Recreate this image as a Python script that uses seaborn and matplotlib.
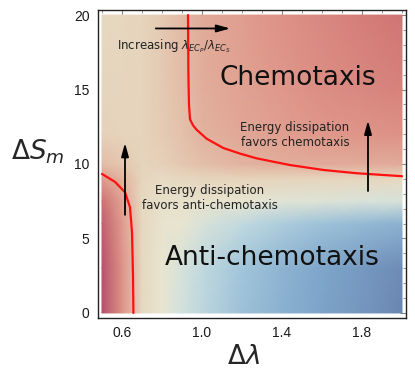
import numpy as np
import matplotlib
matplotlib.use("Agg")
import matplotlib.pyplot as plt
import seaborn as sns
import pandas as pd
from matplotlib.colors import LinearSegmentedColormap
from matplotlib.ticker import MultipleLocator

# ---- data ----
x_grid = [0.5, 0.6, 0.7, 0.8, 0.9, 1.0, 1.2, 1.4, 1.6, 1.8, 2.0]
y_grid = [0, 3, 6, 7.5, 9, 10, 12, 15, 20]
field = [
    [1.00, 0.60, 0.15, 0.00, -0.12, -0.25, -0.45, -0.60, -0.72, -0.82, -0.95],
    [0.98, 0.60, 0.15, 0.00, -0.10, -0.22, -0.42, -0.57, -0.70, -0.80, -0.90],
    [0.90, 0.55, 0.15, 0.03, 0.00, -0.08, -0.22, -0.34, -0.44, -0.52, -0.60],
    [0.80, 0.50, 0.15, 0.06, 0.05, 0.04, 0.00, -0.04, -0.06, -0.08, -0.10],
    [0.55, 0.40, 0.18, 0.12, 0.15, 0.18, 0.20, 0.20, 0.18, 0.17, 0.15],
    [0.35, 0.28, 0.20, 0.22, 0.28, 0.33, 0.40, 0.43, 0.45, 0.45, 0.45],
    [0.22, 0.20, 0.20, 0.25, 0.32, 0.40, 0.47, 0.52, 0.56, 0.58, 0.60],
    [0.18, 0.18, 0.20, 0.26, 0.34, 0.43, 0.50, 0.56, 0.62, 0.66, 0.70],
    [0.15, 0.17, 0.20, 0.27, 0.36, 0.45, 0.53, 0.60, 0.66, 0.72, 0.78],
]

# upper-right boundary (chemotaxis)
upper_x = [0.93, 0.932, 0.935, 0.94, 0.955, 0.973, 1.023, 1.107, 1.19, 1.273, 1.44, 1.607, 1.773, 2.0]
upper_y = [20.0, 16.0, 14.0, 13.0, 12.6, 12.3, 11.7, 11.07, 10.7, 10.38, 9.93, 9.6, 9.38, 9.18]
# lower-left boundary
lower_x = [0.5, 0.565, 0.615, 0.64, 0.65, 0.655, 0.657]
lower_y = [9.33, 8.8, 8.1, 7.1, 5.4, 2.5, 0.0]

xticks = [0.6, 1.0, 1.4, 1.8]
yticks = [0, 5, 10, 15, 20]

sns.set_style("white")
plt.rcParams['font.family'] = ['DejaVu Sans']
plt.rcParams['mathtext.fontset'] = 'dejavusans'

cmap = LinearSegmentedColormap.from_list("rbt", [
    (0.000, "#6680ad"),
    (0.150, "#7fa6cb"),
    (0.300, "#a3c7db"),
    (0.425, "#cde0e0"),
    (0.500, "#e8e5d0"),
    (0.600, "#e6d4bc"),
    (0.700, "#e2b4a0"),
    (0.775, "#e09a8c"),
    (0.875, "#d47a76"),
    (1.000, "#b4506a"),
])

fig = plt.figure(figsize=(4.15, 3.74), dpi=100)
ax = fig.add_axes([98/415, 1-318/374, 308/415, 308/374])

X, Y = np.meshgrid(x_grid, y_grid)
ax.pcolormesh(X, Y, np.array(field), cmap=cmap, vmin=-1, vmax=1,
              shading='gouraud', rasterized=True, zorder=1)

up = pd.DataFrame({"x": upper_x, "y": upper_y})
lo = pd.DataFrame({"x": lower_x, "y": lower_y})
sns.lineplot(data=up, x="x", y="y", sort=False, color="#ff1010", lw=1.6, ax=ax, zorder=3)
sns.lineplot(data=lo, x="x", y="y", sort=False, color="#ff1010", lw=1.6, ax=ax, zorder=3)

ax.set_xlim(0.48, 2.02)
ax.set_ylim(-0.34, 20.34)

arrow_kw = dict(arrowstyle="-|>,head_length=0.8,head_width=0.22", color="black", lw=1.3)
ax.annotate("", xy=(1.155, 19.1), xytext=(0.755, 19.1), arrowprops=arrow_kw, zorder=4)
ax.annotate("", xy=(1.83, 13.1), xytext=(1.83, 8.0), arrowprops=arrow_kw, zorder=4)
ax.annotate("", xy=(0.615, 11.6), xytext=(0.615, 6.4), arrowprops=arrow_kw, zorder=4)

ax.text(0.575, 17.9, r"Increasing $\lambda_{EC_P}/\lambda_{EC_S}$", fontsize=8.5,
        ha="left", va="center", color="#222222", zorder=5)
ax.text(1.48, 15.8, "Chemotaxis", fontsize=19, ha="center", va="center", color="#111111", zorder=5)
ax.text(1.35, 3.7, "Anti-chemotaxis", fontsize=19, ha="center", va="center", color="#111111", zorder=5)
ax.text(1.465, 11.95, "Energy dissipation\nfavors chemotaxis", fontsize=8.5,
        ha="center", va="center", color="#222222", linespacing=1.2, zorder=5)
ax.text(1.04, 7.7, "Energy dissipation\nfavors anti-chemotaxis", fontsize=8.5,
        ha="center", va="center", color="#222222", linespacing=1.2, zorder=5)

ax.set_xticks(xticks)
ax.set_xticklabels([f"{v:.1f}" for v in xticks])
ax.set_yticks(yticks)
ax.set_yticklabels([str(v) for v in yticks])
ax.xaxis.set_minor_locator(MultipleLocator(0.1))
ax.yaxis.set_minor_locator(MultipleLocator(1))
ax.tick_params(which="both", direction="in", top=True, right=True, colors="#888888",
               labelcolor="#1a1a1a", labelsize=10)
ax.tick_params(which="major", length=4.5, width=0.8)
ax.tick_params(which="minor", length=2.5, width=0.6)
for lab in ax.get_xticklabels() + ax.get_yticklabels():
    lab.set_family("Liberation Sans")
ax.tick_params(axis="x", pad=6)
ax.tick_params(axis="y", pad=6)

for s in ax.spines.values():
    s.set_color("#222222")
    s.set_linewidth(1.0)

ax.set_xlabel("")
ax.set_ylabel("")
fig.text(243/415, 1-357/374, r"$\mathit{\Delta\lambda}$", fontsize=19, ha="center", va="center")
fig.text(38/415, 1-152/374, r"$\mathit{\Delta S_m}$", fontsize=19, ha="center", va="center")

fig.savefig("out.png", dpi=100)
